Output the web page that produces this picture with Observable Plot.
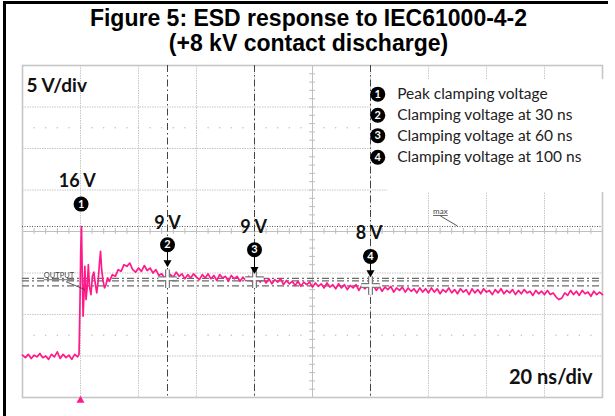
<!DOCTYPE html>
<html><head><meta charset="utf-8">
<script src="https://cdn.jsdelivr.net/npm/d3@7"></script>
<script src="https://cdn.jsdelivr.net/npm/@observablehq/plot@0.6"></script>
<style>
html,body{margin:0;padding:0;background:#fff;}
#wrap{position:relative;width:615px;height:416px;overflow:hidden;background:#fff;}
#border{position:absolute;left:3px;top:1px;width:602px;height:420px;border-left:3px solid #000;border-top:3px solid #000;pointer-events:none;}
#title{position:absolute;left:0;top:6px;width:617px;text-align:center;font:bold 23px/25px "Liberation Sans",Arial,sans-serif;color:#000;}
#chart{position:absolute;left:0;top:60px;}
</style></head><body>
<div id="wrap">
<div id="title">Figure 5: ESD response to IEC61000-4-2<br>(+8 kV contact discharge)</div>
<div id="chart"></div>
<div id="border"></div>
</div>
<script>
// ---------- data ----------
const gridTimesNs = [-20, 0, 20, 40, 60, 80, 100, 120, 140, 160, 180];
const gridVolts = [-5, 0, 5, 10, 15, 20, 25, 30, 35];
const centerTimeNs = 80;
const centerVolts = 15;
const dottedRowVolts = [27.5, 2.5];

const traceTimeNs = [
  -20,-19,-18,-17,-16,-15,-14,-13,-12,-11,-10,-9,-8,-7,-6,-5,-4,-3,-2,-1,
  -0.5,-0.2,0.1,0.35,0.6,0.9,1.2,1.5,1.9,2.3,2.7,3.1,3.6,4.1,4.6,5.1,5.6,6.1,6.5,6.9,7.3,7.8,8.3,8.8,9.3,
  10,11,12,13,14,15,16,17,18,19,
  20,21,22,23,24,25,26,27,28,29,
  30,31,32,33,34,35,36,37,38,39,
  40,41,42,43,44,45,46,47,48,49,
  50,51,52,53,54,55,56,57,58,59,
  60,61,62,63,64,65,66,67,68,69,
  70,71,72,73,74,75,76,77,78,79,
  80,81,82,83,84,85,86,87,88,89,
  90,91,92,93,94,95,96,97,98,99,
  100,101,102,103,104,105,106,107,108,109,
  110,111,112,113,114,115,116,117,118,119,
  120,121,122,123,124,125,126,127,128,129,
  130,131,132,133,134,135,136,137,138,139,
  140,141,142,143,144,145,146,147,148,149,
  150,151,152,153,154,155,156,157,158,159,
  160,161,162,163,164,165,166,167,168,169,
  170,171,172,173,174,175,176,177,178,179,
  180
];
const traceVolts = [
  0.1,-0.2,0.2,-0.3,0.1,-0.1,0.3,-0.2,0.0,-0.4,0.2,-0.1,0.5,-0.3,0.2,-0.2,0.1,-0.4,0.2,-0.1,
  0.2,6.0,13.0,15.6,10.0,4.8,7.5,10.8,6.8,8.2,11.0,8.4,7.4,9.6,10.1,8.7,7.6,9.1,11.0,12.6,10.4,9.0,8.2,8.6,9.4,
  9.0,9.8,9.6,10.4,10.2,11.0,10.8,11.2,10.4,10.1,
  10.6,10.2,10.9,10.3,10.6,10.0,10.4,9.7,9.9,9.4,
  9.3,9.8,9.5,10.1,9.6,9.9,9.3,9.8,9.4,9.9,
  9.5,9.2,9.8,9.4,9.9,9.3,9.7,9.1,9.8,9.4,
  9.6,9.0,9.7,9.3,9.6,9.0,9.5,9.1,9.6,9.0,
  9.2,9.5,8.9,9.4,8.8,9.3,8.7,9.2,8.9,9.3,
  8.6,9.1,8.7,9.0,8.5,9.0,8.4,8.9,8.6,8.9,
  8.3,8.8,8.4,8.7,8.2,8.8,8.3,8.6,8.1,8.7,
  8.2,8.6,8.0,8.5,8.2,8.6,7.9,8.5,8.1,8.4,
  8.2,8.5,7.9,8.4,7.8,8.3,8.0,8.4,7.7,8.2,
  7.9,8.3,7.7,8.2,7.8,8.1,7.6,8.2,7.7,8.1,
  7.6,8.2,7.7,8.1,7.5,8.0,7.7,8.2,7.6,8.0,
  7.5,8.1,7.7,8.0,7.4,8.1,7.6,8.0,7.5,8.1,
  7.7,7.9,7.4,8.0,7.6,8.1,7.5,7.9,7.6,8.0,
  7.4,7.9,7.5,8.0,7.6,7.8,7.3,7.9,7.5,7.8,
  7.4,7.9,7.4,7.6,7.1,6.8,7.0,7.6,7.3,7.9,
  7.4,7.8,7.3,7.9,7.5,7.7,7.2,7.8,7.4,7.7,
  7.4
];

const maxLevelV = 15.6;
const outputLevelsV = [9.35, 9.05, 8.45];
const cursorTimesNs = [30, 60, 100];
const crossVolts = [9.3, 9.3, 8.5];

const markerIds = ["1", "2", "3", "4"];
const markerTimesNs = [0.2, 30, 60, 100];
const markerLabels = ["16 V", "9 V", "9 V", "8 V"];

const legendLabels = [
  "Peak clamping voltage",
  "Clamping voltage at 30 ns",
  "Clamping voltage at 60 ns",
  "Clamping voltage at 100 ns"
];
const scaleLabelY = "5 V/div";
const scaleLabelX = "20 ns/div";
const maxLabel = "max";
const outputLabel = "OUTPUT";

// ---------- layout (data units) ----------
const markerCircleV = [18.3, 13.4, 12.8, 12.0];
const markerLabelV = [21.1, 16.0, 15.5, 14.8];
const markerLabelT = [-1.1, 30, 59.7, 99.5];
const arrowTipV = [10.9, 10.1, 9.7];
const legendCircleT = 102.5, legendTextT = 109.2;
const legendRowV = [31.55, 29.0, 26.55, 23.95];

const trace = traceTimeNs.map((t, i) => ({t, v: traceVolts[i]}));
const markers = markerIds.map((id, i) => ({
  id, t: markerTimesNs[i], cv: markerCircleV[i], lv: markerLabelV[i], lt: markerLabelT[i], label: markerLabels[i]
}));
const crosses = cursorTimesNs.map((t, i) => ({t, v: crossVolts[i], tip: arrowTipV[i], cv: markerCircleV[i + 1]}));
const legend = legendLabels.map((label, i) => ({id: markerIds[i], label, v: legendRowV[i]}));
const minorT = d3.range(-20, 180.1, 4);
const minorV = d3.range(-5, 35.1, 1);
const dotRow = dottedRowVolts.flatMap(v => minorT.map(t => ({t, v})));

const pink = "#ff1a8a";

const chart = Plot.plot({
  width: 615, height: 356,
  marginTop: 5, marginBottom: 19, marginLeft: 22, marginRight: 13,
  x: {domain: [-20, 180], axis: null},
  y: {domain: [-5, 35], axis: null},
  style: {fontFamily: "Lato, sans-serif", background: "transparent", overflow: "visible"},
  marks: [
    Plot.ruleX(gridTimesNs, {stroke: "#c6c6c6", strokeWidth: 1, strokeDasharray: "1.5,1"}),
    Plot.ruleY(gridVolts, {stroke: "#c6c6c6", strokeWidth: 1, strokeDasharray: "1.5,1"}),
    Plot.ruleX([centerTimeNs], {stroke: "#c0c0c0", strokeWidth: 1}),
    Plot.ruleY([centerVolts], {stroke: "#c0c0c0", strokeWidth: 1}),
    Plot.ruleX(minorT, {y1: centerVolts - 0.35, y2: centerVolts + 0.35, stroke: "#bcbcbc"}),
    Plot.ruleY(minorV, {x1: centerTimeNs - 1, x2: centerTimeNs + 1, stroke: "#bcbcbc"}),
    Plot.dot(dotRow, {x: "t", y: "v", r: 0.7, fill: "#bbb", stroke: null}),
    Plot.frame({stroke: "#c6c6c6", strokeWidth: 1.6}),
    // legend white box
    Plot.rect([{x1: 100.6, x2: 183, y1: 20.3, y2: 33.3}], {x1: "x1", x2: "x2", y1: "y1", y2: "y2", fill: "#fff"}),
    Plot.rect([{x1: 106, x2: 183, y1: 19.7, y2: 20.3}], {x1: "x1", x2: "x2", y1: "y1", y2: "y2", fill: "#fff"}),
    // horizontal cursors
    Plot.ruleY([maxLevelV], {stroke: "#555", strokeWidth: 1, strokeDasharray: "1,1.5"}),
    Plot.ruleY(outputLevelsV, {stroke: "#6a6a6a", strokeWidth: 1.2, strokeDasharray: "7,3,2,3"}),
    // vertical cursors
    Plot.ruleX(cursorTimesNs, {stroke: "#444", strokeWidth: 1, strokeDasharray: "7,3,1.5,3"}),
    // trace
    Plot.line(trace, {x: "t", y: "v", stroke: pink, strokeWidth: 1.7}),
    // crossing markers
    Plot.dot(crosses, {x: "t", y: "v", symbol: "plus", r: 6, stroke: "#7a7a7a", strokeWidth: 5}),
    Plot.dot(crosses, {x: "t", y: "v", symbol: "plus", r: 6, stroke: "#fff", strokeWidth: 2.5}),
    // arrows
    Plot.ruleX(crosses, {x: "t", y1: "cv", y2: "tip", stroke: "#000", strokeWidth: 1}),
    Plot.dot(crosses, {x: "t", y: d => d.tip + 0.35, symbol: "triangle", rotate: 180, r: 3, fill: "#000", stroke: null}),
    // numbered circles
    Plot.dot(markers, {x: "t", y: "cv", r: 7.5, fill: "#000", stroke: null}),
    Plot.text(markers, {x: "t", y: "cv", text: "id", fill: "#fff", fontWeight: "bold", fontSize: 11}),
    Plot.text(markers, {x: "lt", y: "lv", text: "label", fill: "#111", fontWeight: "bold", fontSize: 18}),
    // legend
    Plot.dot(legend, {x: legendCircleT, y: "v", r: 7.5, fill: "#000", stroke: null}),
    Plot.text(legend, {x: legendCircleT, y: "v", text: "id", fill: "#fff", fontWeight: "bold", fontSize: 11}),
    Plot.text(legend, {x: legendTextT, y: "v", text: "label", textAnchor: "start", fill: "#222", fontSize: 15.5}),
    // scale labels
    Plot.text([scaleLabelY], {text: d => d, frameAnchor: "top-left", textAnchor: "start", lineAnchor: "middle", dx: 4, dy: 20.5, fontSize: 19, fontWeight: "bold", fill: "#111"}),
    Plot.text([scaleLabelX], {text: d => d, frameAnchor: "bottom-right", textAnchor: "end", lineAnchor: "middle", dx: -10, dy: -20, fontSize: 20, fontWeight: "bold", fill: "#111"}),
    // max & output labels
    Plot.text([maxLabel], {text: d => d, x: 124.1, y: 17.4, fontSize: 8, fill: "#444"}),
    Plot.link([{t1: 124.1, v1: 16.87, t2: 130, v2: 15.66}], {x1: "t1", y1: "v1", x2: "t2", y2: "v2", stroke: "#444", strokeWidth: 0.9}),
    Plot.text([outputLabel], {text: d => d, x: -7.4, y: 9.64, fontSize: 7.5, fill: "#444"}),
    Plot.link([{t1: -5, v1: 8.95, t2: 1.5, v2: 8.0}], {x1: "t1", y1: "v1", x2: "t2", y2: "v2", stroke: "#444", strokeWidth: 0.9}),
    // trigger marker
    Plot.dot([0], {x: d => d, y: -5.35, symbol: "triangle", r: 3, fill: pink, stroke: null})
  ]
});
d3.select(chart).selectAll("text").filter(function() {
  return this.textContent === maxLabel || this.textContent === outputLabel;
}).attr("text-decoration", "underline");
document.getElementById("chart").appendChild(chart);
</script>
</body></html>
